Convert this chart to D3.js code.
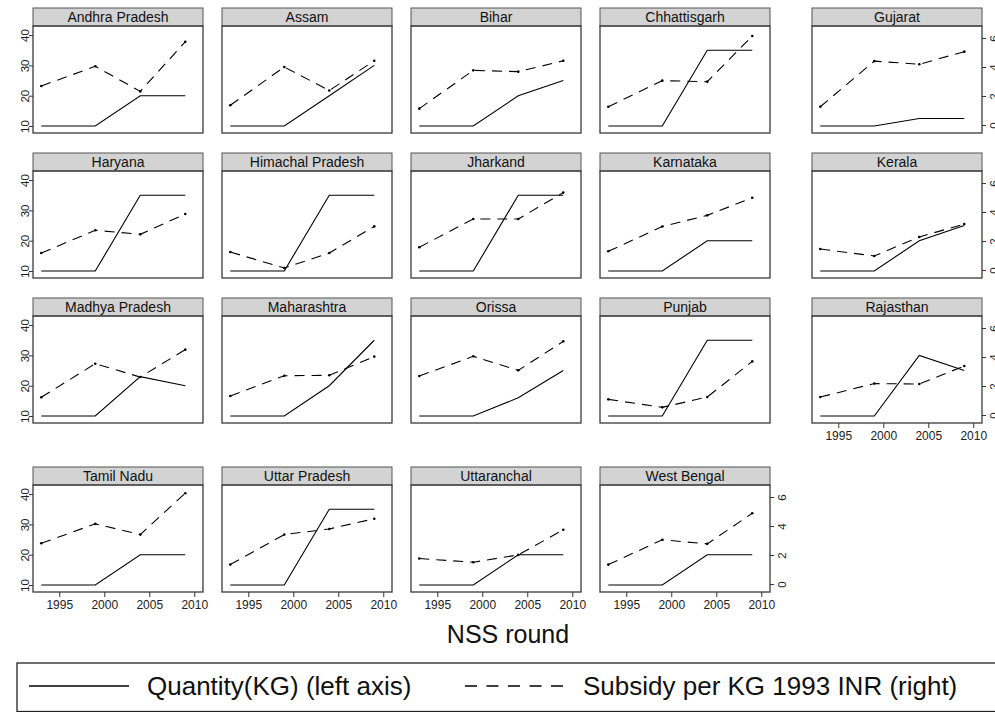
<!DOCTYPE html>
<html>
<head>
<meta charset="utf-8">
<script src="https://cdn.jsdelivr.net/npm/d3@7"></script>
<style>
    body { margin: 0; background: #fff; }
    svg { display: block; font-family: "Liberation Sans", Arial, Helvetica, sans-serif; }
    .strip-label { font-size: 14px; fill: #111; }
    .axis text { font-size: 11.5px; fill: #222; }
    .axis path, .axis line { stroke: #333; }
</style>
</head>
<body>
<div id="chart"></div>
<script>
// NSS rounds (years) and states, panel order left-to-right, top-to-bottom
const years = [1993, 1999, 2004, 2009];

const states = [
    'Andhra Pradesh', 'Assam', 'Bihar', 'Chhattisgarh', 'Gujarat',
    'Haryana', 'Himachal Pradesh', 'Jharkand', 'Karnataka', 'Kerala',
    'Madhya Pradesh', 'Maharashtra', 'Orissa', 'Punjab', 'Rajasthan',
    'Tamil Nadu', 'Uttar Pradesh', 'Uttaranchal', 'West Bengal'
];

// Quantity (KG), left axis
const quantityKg = [
    [10, 10, 20, 20], [10, 10, 20, 30], [10, 10, 20, 25], [10, 10, 35, 35], [10, 10, 12.5, 12.5],
    [10, 10, 35, 35], [10, 10, 35, 35], [10, 10, 35, 35], [10, 10, 20, 20], [10, 10, 20, 25],
    [10, 10, 23, 20], [10, 10, 20, 35], [10, 10, 16, 25], [10, 10, 35, 35], [10, 10, 30, 25],
    [10, 10, 20, 20], [10, 10, 35, 35], [10, 10, 20, 20], [10, 10, 20, 20]
];

// Subsidy per KG, 1993 INR, right axis
const subsidyPerKg = [
    [2.69, 4.05, 2.32, 5.74], [1.36, 4.0, 2.38, 4.43], [1.13, 3.77, 3.68, 4.43], [1.26, 3.06, 2.99, 6.14], [1.26, 4.41, 4.19, 5.06],
    [1.17, 2.74, 2.46, 3.86], [1.24, 0.14, 1.17, 3.01], [1.57, 3.52, 3.52, 5.34], [1.29, 3.0, 3.77, 4.99], [1.45, 0.97, 2.28, 3.17],
    [1.22, 3.54, 2.62, 4.51], [1.31, 2.71, 2.74, 4.03], [2.69, 4.05, 3.08, 5.08], [1.08, 0.53, 1.24, 3.7], [1.24, 2.17, 2.14, 3.38],
    [2.81, 4.15, 3.41, 6.26], [1.34, 3.41, 3.8, 4.5], [1.76, 1.5, 2.01, 3.74], [1.34, 3.05, 2.77, 4.88]
];

const leftTicks = [10, 20, 30, 40];
const rightTicks = [0, 2, 4, 6];
const xTicks = [1995, 2000, 2005, 2010];

const legendLabels = ['Quantity(KG) (left axis)', 'Subsidy per KG 1993 INR (right)'];
const xTitle = 'NSS round';

function createPanelChart() {
    const width = 995, height = 712;
    const colX = [33, 222, 411, 600, 812];
    const rowTop = [26, 171, 316, 485];
    const panelW = 170, panelH = 107, stripH = 18;

    const svg = d3.select('#chart').append('svg')
        .attr('width', width)
        .attr('height', height);

    svg.append('rect').attr('width', width).attr('height', height).attr('fill', '#fff');

    const x = d3.scaleLinear().domain([1992.08, 2010.97]).range([0, panelW]);
    const yLeft = d3.scaleLinear().domain([7.7, 43.0]).range([panelH, 0]);
    const yRight = d3.scaleLinear().domain([-0.55, 6.83]).range([panelH, 0]);

    const qtyLine = d3.line().x((d, i) => x(years[i])).y(d => yLeft(d));
    const subLine = d3.line().x((d, i) => x(years[i])).y(d => yRight(d));

    states.forEach((state, i) => {
        const row = Math.floor(i / 5), col = i % 5;
        const g = svg.append('g')
            .attr('transform', `translate(${colX[col]},${rowTop[row]})`);

        // Strip with state name
        g.append('rect')
            .attr('x', 0).attr('y', -stripH)
            .attr('width', panelW).attr('height', stripH)
            .attr('fill', '#d3d3d3')
            .attr('stroke', '#555')
            .attr('stroke-width', 1);

        g.append('text')
            .attr('class', 'strip-label')
            .attr('x', panelW / 2)
            .attr('y', -stripH + 14)
            .attr('text-anchor', 'middle')
            .text(state);

        // Series
        g.append('path')
            .datum(quantityKg[i])
            .attr('d', qtyLine)
            .attr('fill', 'none')
            .attr('stroke', '#000')
            .attr('stroke-width', 1.1);

        g.append('path')
            .datum(subsidyPerKg[i])
            .attr('d', subLine)
            .attr('fill', 'none')
            .attr('stroke', '#000')
            .attr('stroke-width', 1.1)
            .attr('stroke-dasharray', '10,7');

        g.selectAll('.dot')
            .data(subsidyPerKg[i])
            .enter()
            .append('circle')
            .attr('class', 'dot')
            .attr('cx', (d, j) => x(years[j]))
            .attr('cy', d => yRight(d))
            .attr('r', 1.3)
            .attr('fill', '#000');

        // Plot frame
        g.append('rect')
            .attr('width', panelW).attr('height', panelH)
            .attr('fill', 'none')
            .attr('stroke', '#3a3a3a')
            .attr('stroke-width', 1.3);

        // Axes
        if (col === 0) {
            g.append('g')
                .attr('class', 'axis')
                .call(d3.axisLeft(yLeft).tickValues(leftTicks).tickSize(4).tickSizeOuter(0))
                .call(a => a.select('.domain').remove())
                .selectAll('text')
                .attr('x', 0).attr('y', 0).attr('dy', 0)
                .attr('text-anchor', 'middle')
                .attr('transform', 'translate(-4,0) rotate(-90)');
        }

        if (col === 4 || i === states.length - 1) {
            g.append('g')
                .attr('class', 'axis')
                .attr('transform', `translate(${panelW},0)`)
                .call(d3.axisRight(yRight).tickValues(rightTicks).tickSize(4).tickSizeOuter(0))
                .call(a => a.select('.domain').remove())
                .selectAll('text')
                .attr('x', 0).attr('y', 0).attr('dy', 0)
                .attr('text-anchor', 'middle')
                .attr('transform', 'translate(16,0) rotate(-90)');
        }

        if (row === 3 || (row === 2 && col === 4)) {
            g.append('g')
                .attr('class', 'axis x-axis')
                .attr('transform', `translate(0,${panelH})`)
                .call(d3.axisBottom(x).tickValues(xTicks).tickFormat(d3.format('d')).tickSize(5).tickSizeOuter(0))
                .call(a => a.select('.domain').remove())
                .selectAll('text')
                .style('font-size', '12px');
        }
    });

    // X axis title
    svg.append('text')
        .attr('x', 508)
        .attr('y', 643)
        .attr('text-anchor', 'middle')
        .style('font-size', '25px')
        .style('fill', '#111')
        .text(xTitle);

    // Legend
    const legend = svg.append('g');
    legend.append('rect')
        .attr('x', 17).attr('y', 663)
        .attr('width', 981).attr('height', 48.5)
        .attr('fill', 'none')
        .attr('stroke', '#222')
        .attr('stroke-width', 1.3);

    legend.append('line')
        .attr('x1', 29).attr('x2', 129)
        .attr('y1', 686).attr('y2', 686)
        .attr('stroke', '#000')
        .attr('stroke-width', 1.6);

    legend.append('text')
        .attr('x', 147).attr('y', 695)
        .style('font-size', '26px')
        .style('fill', '#111')
        .text(legendLabels[0]);

    legend.append('line')
        .attr('x1', 465).attr('x2', 567)
        .attr('y1', 686).attr('y2', 686)
        .attr('stroke', '#000')
        .attr('stroke-width', 1.6)
        .attr('stroke-dasharray', '12,9.5');

    legend.append('text')
        .attr('x', 583).attr('y', 695)
        .style('font-size', '26px')
        .style('fill', '#111')
        .text(legendLabels[1]);
}

createPanelChart();
</script>
</body>
</html>
